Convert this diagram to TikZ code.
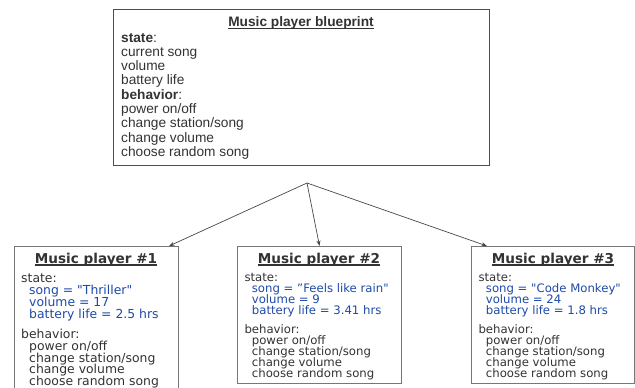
\documentclass[tikz,border=0pt]{standalone}
\usepackage{fontspec}
\setmainfont{Liberation Sans}
\newfontfamily\dvs{DejaVu Sans}
\usetikzlibrary{arrows.meta}
\definecolor{txt}{HTML}{333333}
\definecolor{val}{HTML}{1E4AAA}
\definecolor{edge}{HTML}{555555}
\begin{document}
\begin{tikzpicture}[x=1pt,y=-1pt,
  bigbox/.style={draw=edge!90!black,line width=1.3pt,fill=white,anchor=north west,inner sep=0pt},
  objbox/.style={draw=edge!80,line width=1pt,fill=white,anchor=north west,inner sep=0pt,minimum width=164pt},
  ln/.style={anchor=base west,inner sep=0pt,text=txt},
  tl/.style={anchor=base,inner sep=0pt,text=txt},
  topf/.style={font=\fontsize{13.7}{14}\selectfont},
  bodyA/.style={font=\dvs\fontsize{12.4}{13}\selectfont},
  bodyB/.style={font=\dvs\fontsize{11.7}{12}\selectfont},
  ttl/.style={font=\dvs\bfseries\fontsize{13.6}{14}\selectfont},
  v/.style={text=val},
  uline/.style={draw=txt,line width=1.2pt},
  arr/.style={draw=txt!90,line width=0.7pt,-{Stealth[length=5.5pt,width=4pt]}}]
\useasboundingbox (0,0) rectangle (635,388);
\clip (0,0) rectangle (635,388);
% blueprint box
\node[bigbox,minimum width=376pt,minimum height=156pt] (bp) at (113,9) {};
\node[tl,topf,font=\bfseries\fontsize{13.7}{14}\selectfont] (bpt) at (301,27) {Music player blueprint};
\draw[uline] ([yshift=-1.6pt]bpt.base west) -- ([yshift=-1.6pt]bpt.base east);
\node[ln,topf] (bp1) at (121,42) {\textbf{state}:};
\node[ln,topf] (bp2) at (121,56.3) {current song};
\node[ln,topf] (bp3) at (121,70.6) {volume};
\node[ln,topf] (bp4) at (121,84.9) {battery life};
\node[ln,topf] (bp5) at (121,99.2) {\textbf{behavior}:};
\node[ln,topf] (bp6) at (121,113.5) {power on/off};
\node[ln,topf] (bp7) at (121,127.8) {change station/song};
\node[ln,topf] (bp8) at (121,142.1) {change volume};
\node[ln,topf] (bp9) at (121,156.4) {choose random song};
% object boxes
\node[objbox,minimum height=150pt] (b1) at (14,246) {};
\node[objbox,minimum height=137pt] (b2) at (237,246) {};
\node[objbox,minimum width=163pt,minimum height=137pt] (b3) at (471,246) {};
% box 1
\node[tl,ttl] (b1t) at (96,263) {Music player \#1};
\draw[uline] ([yshift=-2pt]b1t.base west) -- ([yshift=-2pt]b1t.base east);
\node[ln,bodyA] (b1a) at (21,282) {state:};
\node[ln,bodyA,v] (b1b) at (29,294) {song = "Thriller"};
\node[ln,bodyA,v] (b1c) at (29,306.3) {volume = 17};
\node[ln,bodyA,v] (b1d) at (29,318.6) {battery life = 2.5 hrs};
\node[ln,bodyA] (b1e) at (21,338) {behavior:};
\node[ln,bodyA] (b1f) at (29,350) {power on/off};
\node[ln,bodyA] (b1g) at (29,362) {change station/song};
\node[ln,bodyA] (b1h) at (29,373.5) {change volume};
\node[ln,bodyA] (b1i) at (29,385) {choose random song};
% box 2
\node[tl,ttl] (b2t) at (319,263) {Music player \#2};
\draw[uline] ([yshift=-2pt]b2t.base west) -- ([yshift=-2pt]b2t.base east);
\node[ln,bodyB] (b2a) at (244.3,281) {state:};
\node[ln,bodyB,v] (b2b) at (251.7,292) {song = ”Feels like rain"};
\node[ln,bodyB,v] (b2c) at (251.7,303) {volume = 9};
\node[ln,bodyB,v] (b2d) at (251.7,314) {battery life = 3.41 hrs};
\node[ln,bodyB] (b2e) at (244.3,333) {behavior:};
\node[ln,bodyB] (b2f) at (251.7,344) {power on/off};
\node[ln,bodyB] (b2g) at (251.7,355.5) {change station/song};
\node[ln,bodyB] (b2h) at (251.7,366.5) {change volume};
\node[ln,bodyB] (b2i) at (251.7,377) {choose random song};
% box 3
\node[tl,ttl] (b3t) at (553,263) {Music player \#3};
\draw[uline] ([yshift=-2pt]b3t.base west) -- ([yshift=-2pt]b3t.base east);
\node[ln,bodyB] (b3a) at (478.3,281) {state:};
\node[ln,bodyB,v] (b3b) at (485.7,292) {song = "Code Monkey"};
\node[ln,bodyB,v] (b3c) at (485.7,303) {volume = 24};
\node[ln,bodyB,v] (b3d) at (485.7,314) {battery life = 1.8 hrs};
\node[ln,bodyB] (b3e) at (478.3,333) {behavior:};
\node[ln,bodyB] (b3f) at (485.7,344) {power on/off};
\node[ln,bodyB] (b3g) at (485.7,355.5) {change station/song};
\node[ln,bodyB] (b3h) at (485.7,366.5) {change volume};
\node[ln,bodyB] (b3i) at (485.7,377) {choose random song};
% connectors
\coordinate (src) at (307,183);
\draw[arr] (src) -- ([xshift=-10pt]b1.north east);
\draw[arr] (src) -- (b2.north);
\draw[arr] (src) -- ([xshift=16pt]b3.north west);
\end{tikzpicture}
\end{document}
